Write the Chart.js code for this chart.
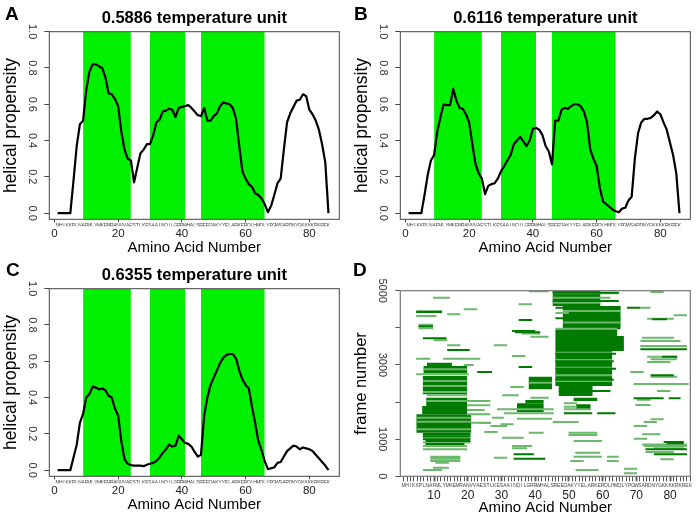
<!DOCTYPE html>
<html><head><meta charset="utf-8">
<script src="https://cdn.jsdelivr.net/npm/chart.js@4.4.1/dist/chart.umd.min.js"></script>
<style>
html,body{margin:0;padding:0;background:#fff}
body{width:697px;height:517px;position:relative;overflow:hidden;font-family:"Liberation Sans",Arial,sans-serif}
.panel{position:absolute;width:346px;height:259px}
.panel canvas{width:346px;height:259px;display:block}
.tag{position:absolute;font-weight:bold;font-size:19px;line-height:19px;color:#000}
</style></head><body>
<div class="panel" style="left:0;top:0"><canvas id="cA" width="346" height="259"></canvas></div>
<div class="panel" style="left:351px;top:0"><canvas id="cB" width="346" height="259"></canvas></div>
<div class="panel" style="left:0;top:257px"><canvas id="cC" width="346" height="259"></canvas></div>
<div class="panel" style="left:351px;top:258px"><canvas id="cD" width="346" height="259"></canvas></div>
<div class="tag" style="left:5px;top:4px">A</div>
<div class="tag" style="left:354px;top:4px">B</div>
<div class="tag" style="left:6px;top:260px">C</div>
<div class="tag" style="left:353px;top:260px">D</div>
<script>
// ---------- data ----------
const sequence = "MHIKKPLNAFMLYMKEMRANVVAESTLKESAAINQILGRRWHALSREEQAKYYELARKERQLHMQLYPGWSARDNYGKKKKRKREK";
const residues = Array.from(sequence, (c, i) => i + 1);
const titles = ["0.5886 temperature unit", "0.6116 temperature unit", "0.6355 temperature unit"];
const helixStart = [9, 30, 46];
const helixEnd = [24, 41, 66];
const propA = [0,0,0,0,0,0.18,0.37,0.49,0.51,0.68,
  0.78,0.82,0.82,0.81,0.80,0.75,0.66,0.655,0.63,0.59,
  0.45,0.35,0.30,0.29,0.17,0.25,0.33,0.35,0.38,0.38,
  0.43,0.50,0.515,0.56,0.565,0.575,0.57,0.53,0.58,0.585,
  0.59,0.595,0.58,0.56,0.54,0.535,0.58,0.51,0.51,0.535,
  0.55,0.59,0.61,0.605,0.60,0.58,0.52,0.37,0.23,0.19,
  0.16,0.145,0.11,0.10,0.08,0.05,0.005,0.04,0.10,0.165,
  0.19,0.35,0.50,0.55,0.585,0.62,0.625,0.655,0.645,0.57,
  0.545,0.51,0.46,0.38,0.28,0.0];
const propB = [0,0,0,0,0,0.10,0.21,0.29,0.32,0.45,
  0.53,0.60,0.595,0.595,0.685,0.62,0.58,0.575,0.545,0.50,
  0.38,0.27,0.22,0.19,0.105,0.15,0.16,0.165,0.19,0.23,
  0.26,0.29,0.32,0.38,0.40,0.42,0.395,0.37,0.40,0.465,
  0.47,0.46,0.43,0.37,0.34,0.27,0.51,0.51,0.57,0.58,
  0.575,0.59,0.60,0.60,0.59,0.56,0.50,0.35,0.30,0.26,
  0.14,0.065,0.05,0.035,0.02,0.01,0.005,0.025,0.03,0.07,
  0.09,0.30,0.44,0.50,0.52,0.52,0.525,0.54,0.56,0.545,
  0.50,0.46,0.39,0.32,0.22,0.0];
const propC = [0,0,0,0,0,0.07,0.14,0.26,0.31,0.40,
  0.42,0.46,0.455,0.445,0.45,0.44,0.41,0.40,0.34,0.30,
  0.16,0.06,0.035,0.028,0.025,0.025,0.025,0.022,0.03,0.035,
  0.04,0.05,0.07,0.095,0.115,0.14,0.13,0.135,0.19,0.17,
  0.15,0.145,0.13,0.10,0.075,0.085,0.30,0.40,0.47,0.51,
  0.55,0.59,0.62,0.635,0.64,0.64,0.615,0.55,0.50,0.47,
  0.45,0.35,0.26,0.16,0.11,0.05,0.005,0.01,0.015,0.04,
  0.045,0.075,0.105,0.12,0.135,0.13,0.115,0.125,0.12,0.115,
  0.105,0.085,0.065,0.045,0.025,0.0];
const propTicks = [0, 0.2, 0.4, 0.6, 0.8, 1.0];
const residueTicks = [0, 20, 40, 60, 80];
const residueTicksD = [10, 20, 30, 40, 50, 60, 70, 80];
const frameTickMarks = [0, 1000, 2000, 3000, 4000, 5000];
const frameTicks = [0, 1000, 3000, 5000];

// Panel D: dense helical blocks [frameLow, frameHigh, firstResidue, lastResidue]
const helixBlocks = [
  [4400,4465,4.7,12.4],[2974,3062,7.9,15.3],[2774,2974,6.9,19.8],[2209,2702,6.7,19.8],
  [1894,2119,7.7,19.8],[1670,1894,6.5,19.8],[1176,1670,4.8,21],
  [2343,2684,38.1,45],[1966,2056,37.1,42.5],[1733,1966,34.6,42.5],
  [4588,5000,45.2,59.3],[3960,4588,48.2,65.3],[3780,3960,46,64.3],[3376,3780,46,66.3],
  [2433,3376,46,62.8],[2164,2433,47,57],[2029,2119,51.4,58.4],[1787,1939,52.1,56.4]
];
// helical segments seen in single frames, lighter [frame, firstResidue, lastResidue]
const lightSegments = [
  [4813,9.7,14.7],[4498,18.8,22.8],[4364,13.9,17.8],[4319,4.7,10.7],[4080,5.4,9.7],[3990,5.4,9.7],
  [3663,9.9,13.9],[3529,13.9,17.8],[3169,4.7,8.9],[3169,12.7,23.7],[3000,18.8,21.8],[2882,6.9,19.8],
  [2747,4.7,20.3],[2568,6.7,19.8],[2433,6.7,19.8],[2271,6.7,19.8],[2182,7.9,19.8],[2029,7.7,26.7],
  [1912,19.8,26.7],[1787,19.8,25],[1670,19.8,26.7],[1580,4.8,21],[1472,4.8,21],[1445,20.8,26.7],
  [1266,4.8,21],[1110,6.7,20.8],[1040,6.7,20.8],[910,6.7,20.8],[817,6.7,19.8],[727,6.7,19.8],
  [529,8.9,17.8],[470,8.9,17.8],[412,8.9,17.8],[368,10.4,14.4],[233,9.7,14.4],[170,6.7,12.4],
  [4983,38.1,44],[4633,35.1,39.1],[3850,36,41.5],[3762,38.6,44],[3529,27.7,31.7],[3241,33.1,37.1],
  [2520,38.1,45],[2406,32.6,36.6],[2182,30.2,35.1],[2119,38.6,44],[1805,28.7,45.5],[1697,30.7,45.5],
  [1580,27.2,30.7],[1553,34.6,45],[1436,23.4,26.9],[1400,29.7,33.6],[1356,26.7,31.7],[1194,24.9,28.9],
  [1176,38.1,42.5],[1041,30.2,36.6],[817,33.1,39.1],[754,33.1,37.6],[502,27.7,31.7],
  [4930,45.2,64.8],[4810,45.2,62.3],[4678,45.2,59.3],[4454,48.2,65.3],[4400,46,50],[4140,48.2,65.3],
  [3978,46,64.3],[3331,46,62.8],[3133,46,62.8],[2927,46,62.8],[2720,46,62.8],[2568,46,62.8],
  [1966,48.5,52.4],[1875,48.5,52.4],[1805,48.5,56.4],[1463,45.2,52.9],[1176,49.9,58.4],[1113,49.9,58.4],
  [951,51.4,59.8],[637,51.9,59.3],[529,51.4,59.8],[412,50.4,54.4],[529,61.3,64.8],[412,61.3,64.8],
  [170,52,58.8],[206,66.3,70.2],[80,66.3,70.2],
  [4965,74.2,78.1],[4543,71.2,74.2],[4337,81.1,85],[4247,73.2,81.1],[3735,71.7,81.1],[3645,71.2,83.1],
  [3510,71.2,85],[3223,73.2,82.1],[3151,74.2,82.1],[3080,73.2,80.1],[2810,68.2,72.2],[2684,74.2,82.1],
  [2487,69.2,85.5],[2298,76.1,80.1],[2060,70.2,74.2],[1921,69.7,74.2],[1535,74.2,78.1],[1463,72.2,76.1],
  [1356,69.2,73.2],[1131,71.7,77.1],[1014,69.2,73.2],[860,71.7,85],[817,72.2,85],[753,75.2,84.1],
  [655,72.7,81.1],[457,77.1,81.1]
];
// helical segments, darker
const darkSegments = [
  [4040,5.4,9.7],[3717,6.7,13.7],[3403,13.9,20.6],[2810,22.8,27.2],[1140,6.7,20.8],[1080,6.7,20.8],
  [1000,6.7,20.8],[950,7.5,20.8],[870,7.5,19],
  [4211,35.1,39.1],[3915,33.1,40],[3880,34,41.5],[2945,35.1,39.1],[592,33.6,39.6],[475,33.6,43],
  [4945,45.2,64.8],[4720,45.2,64.8],[4540,46,65.3],[4260,46,65.3],[3300,46,64],[3100,46,63.3],
  [2900,46,64],[2600,46,63.3],[2300,47,62.3],[1697,58.4,63.8],[1697,48.5,56.9],
  [4543,67.2,71.2],[4229,74.7,79.1],[3421,71.2,85],[3223,77.6,82.1],[2720,74.2,81.1],[2101,69.2,78.1],
  [2101,79.6,83.1],[924,78.1,84.1],[890,79,84],[727,72.7,85],[592,75.2,85]
];

// ---------- styling ----------
const FONT = '"Liberation Sans", Arial, Helvetica, sans-serif';
Chart.defaults.font.family = FONT;
Chart.defaults.color = '#222';
const BAND = '#00f000';
const DARK = '#007a00';
const LIGHT = '#6cb86c';
const CLEAR = 'rgba(0,0,0,0)';

const boxPlugin = {
  id: 'box',
  afterDatasetsDraw(chart, args, opts) {
    const {ctx, chartArea: a} = chart;
    ctx.save();
    ctx.strokeStyle = opts.color || '#444';
    ctx.lineWidth = opts.width || 1;
    ctx.strokeRect(a.left, a.top, a.right - a.left, a.bottom - a.top);
    ctx.restore();
  }
};

function letterAt(v) {
  return (Number.isInteger(v) && v >= 1 && v <= sequence.length) ? sequence[v - 1] : '';
}

function profileChart(id, title, values) {
  const bands = helixStart.map((s, i) => ({
    data: [{x: s, y: 1}, {x: helixEnd[i], y: 1}],
    borderWidth: 0, pointRadius: 0, fill: 'start', backgroundColor: BAND, order: 2
  }));
  return new Chart(document.getElementById(id), {
    type: 'line',
    data: {datasets: [{
      data: residues.map((r, i) => ({x: r, y: values[i]})),
      borderColor: '#000', borderWidth: 2.2, pointRadius: 0, fill: false, tension: 0, order: 0,
      borderJoinStyle: 'round'
    }, ...bands]},
    plugins: [boxPlugin],
    options: {
      responsive: false, animation: false, devicePixelRatio: 1,
      layout: {padding: {left: 0, right: 6.7, top: 0, bottom: 0}},
      plugins: {
        legend: {display: false}, tooltip: {enabled: false},
        title: {display: true, text: title, fullSize: false, color: '#000',
          font: {size: 16.5, weight: 'bold'}, padding: {top: 8.4, bottom: 3.5}},
        box: {color: '#444', width: 1}
      },
      scales: {
        x: {
          type: 'linear', position: 'bottom', weight: 2, min: -1.6, max: 89.4,
          afterFit: s => { s.height = 32.7; },
          grid: {display: false, drawTicks: false}, border: {display: false},
          afterBuildTicks: s => { s.ticks = residueTicks.map(v => ({value: v})); },
          ticks: {autoSkip: false, maxRotation: 0, padding: 1.5, color: '#222',
            font: {size: 11.5, lineHeight: 1}},
          title: {display: true, text: 'Amino Acid Number', color: '#000',
            font: {size: 15, lineHeight: 1}, padding: {top: 0, bottom: 3.2}}
        },
        seq: {
          type: 'linear', position: 'bottom', weight: 1, min: -1.6, max: 89.4,
          afterFit: s => { s.height = 7; },
          grid: {drawOnChartArea: false, drawTicks: true, tickLength: 3,
            tickColor: c => (c.tick && residueTicks.includes(c.tick.value)) ? '#444' : CLEAR},
          border: {display: false},
          afterBuildTicks: s => { s.ticks = [0].concat(residues).map(v => ({value: v})); },
          ticks: {autoSkip: false, maxRotation: 0, minRotation: 0, padding: 1, color: '#444',
            font: {size: 5, lineHeight: 1}, callback: v => letterAt(v)}
        },
        y: {
          type: 'linear', min: -0.034, max: 1,
          afterFit: s => { s.width = 49.3; },
          grid: {drawOnChartArea: false, tickLength: 5, tickColor: '#444'}, border: {display: false},
          afterBuildTicks: s => { s.ticks = propTicks.map(v => ({value: v})); },
          ticks: {autoSkip: false, minRotation: -90, maxRotation: -90, crossAlign: 'center', padding: 4.5,
            color: '#333', font: {size: 11, lineHeight: 1}, callback: v => v.toFixed(1)},
          title: {display: true, text: 'helical propensity', color: '#000',
            font: {size: 17.5, lineHeight: 1}, padding: {top: 2.2, bottom: 0}}
        }
      }
    }
  });
}

profileChart('cA', titles[0], propA);
profileChart('cB', titles[1], propB);
profileChart('cC', titles[2], propC);

function segmentPoints(list) {
  const out = [];
  list.forEach(([f, a, b]) => { out.push({x: a, y: f}, {x: b, y: f}, {x: b, y: null}); });
  return out;
}

const blockSets = helixBlocks.map(([lo, hi, a, b]) => ({
  data: [{x: a, y: lo}, {x: b, y: lo}, {x: b, y: hi}, {x: a, y: hi}, {x: a, y: lo}],
  fill: 'shape', backgroundColor: DARK, borderWidth: 0, pointRadius: 0, order: 3
}));

new Chart(document.getElementById('cD'), {
  type: 'line',
  data: {datasets: [
    ...blockSets,
    {data: segmentPoints(lightSegments), borderColor: LIGHT, borderWidth: 2, pointRadius: 0,
      spanGaps: false, fill: false, borderCapStyle: 'butt', order: 1},
    {data: segmentPoints(darkSegments), borderColor: DARK, borderWidth: 2, pointRadius: 0,
      spanGaps: false, fill: false, borderCapStyle: 'butt', order: 0}
  ]},
  plugins: [boxPlugin],
  options: {
    responsive: false, animation: false, devicePixelRatio: 1,
    layout: {padding: {left: 0, right: 6.7, top: 32.7, bottom: 0}},
    plugins: {legend: {display: false}, tooltip: {enabled: false}, title: {display: false},
      box: {color: '#777', width: 1.2}},
    scales: {
      x: {
        type: 'linear', position: 'bottom', weight: 2, min: 0, max: 86,
        afterFit: s => { s.height = 29.7; },
        grid: {display: false, drawTicks: false}, border: {display: false},
        afterBuildTicks: s => { s.ticks = residueTicksD.map(v => ({value: v})); },
        ticks: {autoSkip: false, maxRotation: 0, padding: 2.5, color: '#222', font: {size: 12, lineHeight: 1}},
        title: {display: true, text: 'Amino Acid Number', color: '#000',
          font: {size: 15, lineHeight: 1}, padding: {top: 0, bottom: 1.5}}
      },
      seq: {
        type: 'linear', position: 'bottom', weight: 1, min: 0, max: 86,
        afterFit: s => { s.height = 11; },
        grid: {drawOnChartArea: false, drawTicks: true, tickLength: 5, tickColor: '#555',
          tickWidth: c => (c.tick && c.tick.value % 10 === 0) ? 1.8 : 1},
        border: {display: false},
        afterBuildTicks: s => { s.ticks = residues.map(v => ({value: v})); },
        ticks: {autoSkip: false, maxRotation: 0, minRotation: 0, padding: 2, color: '#444',
          font: {size: 5, lineHeight: 1}, callback: v => letterAt(v)}
      },
      y: {
        type: 'linear', min: 0, max: 5000,
        afterFit: s => { s.width = 49.3; },
        grid: {drawOnChartArea: false, tickLength: 5, tickColor: '#555'}, border: {display: false},
        afterBuildTicks: s => { s.ticks = frameTickMarks.map(v => ({value: v})); },
        ticks: {autoSkip: false, minRotation: -90, maxRotation: -90, crossAlign: 'center', padding: 1,
          color: '#333', font: {size: 11, lineHeight: 1},
          callback: v => frameTicks.includes(v) ? String(v) : ''},
        title: {display: true, text: 'frame number', color: '#000',
          font: {size: 16.5, lineHeight: 1}, padding: {top: 1.8, bottom: 0}}
      }
    }
  }
});
</script>
</body></html>
